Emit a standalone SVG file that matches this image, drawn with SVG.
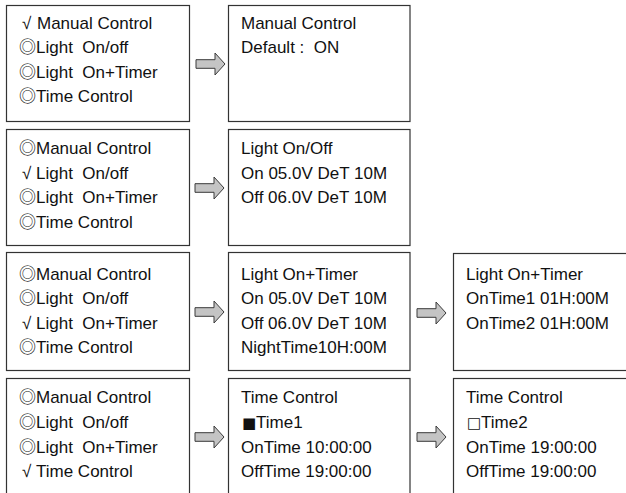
<svg xmlns="http://www.w3.org/2000/svg" width="626" height="493" viewBox="0 0 626 493" xml:space="preserve">
<style>
.box{fill:#fff;stroke:#333;stroke-width:1.2}
.t{font-family:"Liberation Sans","Noto Sans CJK SC",sans-serif;font-size:17px;fill:#111;white-space:pre}
.sq{font-family:"DejaVu Sans",sans-serif;font-size:15px}
.arr{fill:#c4c4c4;stroke:#3a3a3a;stroke-width:1}
</style>
<defs>
<path id="arrow" class="arr" d="M0,-4.3 H19 V-11 L29,0 L19,11 V4.3 H0 Z"/>
</defs>
<rect width="626" height="493" fill="#fff"/>
<g id="connectors">
<use href="#arrow" x="196" y="64"/>
<use href="#arrow" x="195" y="188"/>
<use href="#arrow" x="195" y="312"/>
<use href="#arrow" x="417" y="313"/>
<use href="#arrow" x="195" y="437"/>
<use href="#arrow" x="417" y="437"/>
</g>
<g id="menu1">
<rect class="box" x="6.5" y="5.5" width="183" height="116"/>
<text class="t" y="28.5"><tspan x="22">√</tspan><tspan x="37">Manual Control</tspan></text>
<text class="t" x="19" y="53">◎Light  On/off</text>
<text class="t" x="19" y="77.5">◎Light  On+Timer</text>
<text class="t" x="19" y="102">◎Time Control</text>
</g>
<g id="manual">
<rect class="box" x="228.5" y="5.5" width="181.5" height="116"/>
<text class="t" x="241" y="28.5">Manual Control</text>
<text class="t" x="241" y="53">Default :  ON</text>
</g>
<g id="menu2">
<rect class="box" x="6.5" y="129.5" width="183" height="116"/>
<text class="t" x="19" y="154">◎Manual Control</text>
<text class="t" y="178.5"><tspan x="22">√</tspan><tspan x="36">Light  On/off</tspan></text>
<text class="t" x="19" y="203">◎Light  On+Timer</text>
<text class="t" x="19" y="227.5">◎Time Control</text>
</g>
<g id="lightonoff">
<rect class="box" x="228.5" y="129.5" width="181.5" height="116"/>
<text class="t" x="241" y="154">Light On/Off</text>
<text class="t" x="241" y="178.5">On 05.0V DeT 10M</text>
<text class="t" x="241" y="203">Off 06.0V DeT 10M</text>
</g>
<g id="menu3">
<rect class="box" x="6.5" y="252.5" width="183" height="118"/>
<text class="t" x="19" y="279.5">◎Manual Control</text>
<text class="t" x="19" y="304">◎Light  On/off</text>
<text class="t" y="328.5"><tspan x="22">√</tspan><tspan x="36">Light  On+Timer</tspan></text>
<text class="t" x="19" y="353">◎Time Control</text>
</g>
<g id="lightontimer">
<rect class="box" x="228.5" y="252.5" width="181.5" height="118"/>
<text class="t" x="241" y="279.5">Light On+Timer</text>
<text class="t" x="241" y="304">On 05.0V DeT 10M</text>
<text class="t" x="241" y="328.5">Off 06.0V DeT 10M</text>
<text class="t" x="241" y="353">NightTime10H:00M</text>
</g>
<g id="lightontimer2">
<rect class="box" x="453.5" y="253.5" width="200" height="117"/>
<text class="t" x="466" y="279.5">Light On+Timer</text>
<text class="t" x="466" y="304">OnTime1 01H:00M</text>
<text class="t" x="466" y="328.5">OnTime2 01H:00M</text>
</g>
<g id="menu4">
<rect class="box" x="6.5" y="378.5" width="183" height="150"/>
<text class="t" x="19" y="403">◎Manual Control</text>
<text class="t" x="19" y="428">◎Light  On/off</text>
<text class="t" x="19" y="452.5">◎Light  On+Timer</text>
<text class="t" y="477"><tspan x="22">√</tspan><tspan x="36">Time Control</tspan></text>
</g>
<g id="timecontrol1">
<rect class="box" x="228.5" y="378.5" width="181.5" height="150"/>
<text class="t" x="241" y="403">Time Control</text>
<text class="t" y="428"><tspan class="sq" x="242">■</tspan><tspan x="256">Time1</tspan></text>
<text class="t" x="241" y="452.5">OnTime 10:00:00</text>
<text class="t" x="241" y="477">OffTime 19:00:00</text>
</g>
<g id="timecontrol2">
<rect class="box" x="453.5" y="378.5" width="200" height="150"/>
<text class="t" x="466" y="403">Time Control</text>
<text class="t" y="428"><tspan class="sq" x="467">□</tspan><tspan x="481">Time2</tspan></text>
<text class="t" x="466" y="452.5">OnTime 19:00:00</text>
<text class="t" x="466" y="477">OffTime 19:00:00</text>
</g>
</svg>
